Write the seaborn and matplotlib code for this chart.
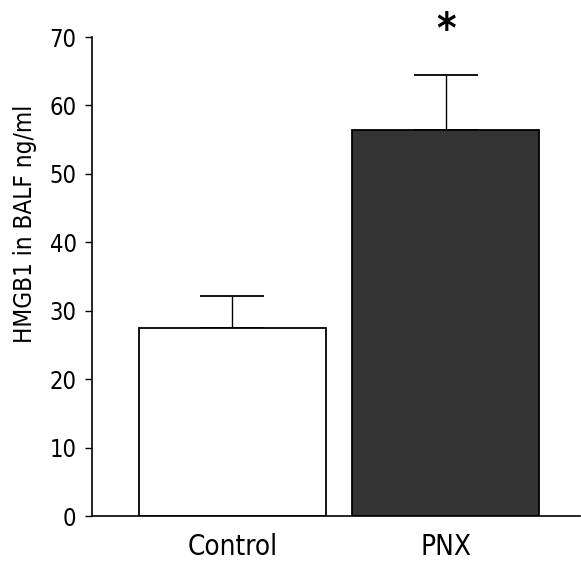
import numpy as np
import pandas as pd
import matplotlib
matplotlib.use('Agg')
import matplotlib.pyplot as plt
import seaborn as sns

# values
groups = ['Control', 'PNX']
means = [27.5, 56.4]
errs = [4.7, 8.1]
bar_colors = ['white', '#333333']

df = pd.DataFrame({'group': groups, 'hmgb1': means})

sns.set_style('white')
plt.rcParams['font.family'] = ['DejaVu Sans']
plt.rcParams['font.stretch'] = 'condensed'
plt.rcParams['text.color'] = 'black'
plt.rcParams['axes.labelcolor'] = 'black'
plt.rcParams['xtick.color'] = 'black'
plt.rcParams['ytick.color'] = 'black'

fig = plt.figure(figsize=(5.81, 5.61), dpi=100)
ax = fig.add_axes([0.158, 0.080, 0.840, 0.854])

sns.barplot(data=df, x='group', y='hmgb1', hue='group', palette=bar_colors,
            edgecolor='black', linewidth=1.3, width=0.88, legend=False, ax=ax,
            zorder=2)

# upper error bars only
ax.errorbar(x=np.arange(len(groups)), y=means, yerr=[np.zeros(len(errs)), errs],
            fmt='none', ecolor='black', elinewidth=1.0, capsize=23, capthick=1.3,
            zorder=1)

# significance mark
ax.text(1, 70.9, '*', ha='center', va='center', fontsize=30, fontweight='bold',
        clip_on=False, fontstretch='condensed')

ax.set_ylim(0, 70)
ax.set_xlim(-0.66, 1.63)
ax.set_yticks(range(0, 71, 10))
ax.set_xlabel('')
ax.set_ylabel('HMGB1 in BALF ng/ml', fontsize=17.5, fontstretch='condensed')
ax.yaxis.set_label_coords(-0.113, 0.61)

ax.tick_params(axis='y', direction='out', length=5, width=1, labelsize=17,
               left=True, pad=6)
ax.tick_params(axis='x', length=0, labelsize=20, pad=12)

for s in ['top', 'right']:
    ax.spines[s].set_visible(False)
for s in ['left', 'bottom']:
    ax.spines[s].set_color('black')
    ax.spines[s].set_linewidth(1.2)

fig.savefig('out.png', dpi=100)
